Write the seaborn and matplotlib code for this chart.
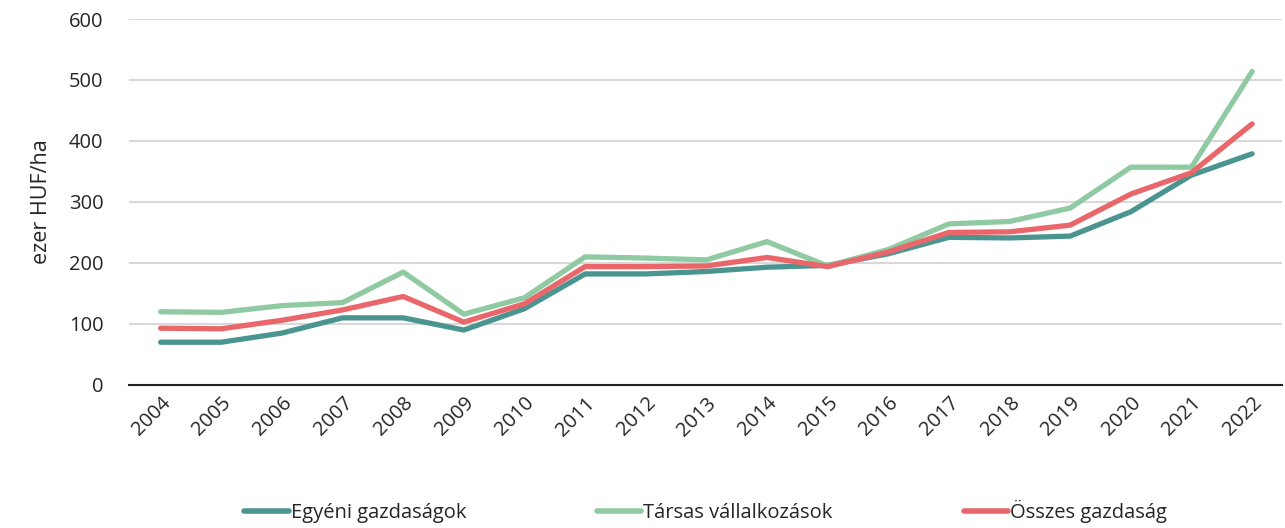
import pandas as pd
import matplotlib
matplotlib.use('Agg')
import matplotlib.pyplot as plt
import seaborn as sns

years = list(range(2004, 2023))
egyeni = [70, 70, 85, 110, 110, 90, 125, 182, 182, 186, 193, 196, 215, 242, 241, 244, 284, 344, 379]
tarsas = [120, 119, 130, 135, 185, 116, 143, 210, 208, 205, 235, 195, 222, 264, 268, 290, 357, 357, 514]
osszes = [93, 92, 106, 123, 145, 103, 133, 194, 194, 195, 209, 194, 218, 250, 251, 262, 313, 348, 428]

series_names = ['Egyéni gazdaságok', 'Társas vállalkozások', 'Összes gazdaság']
colors = ['#4b9590', '#90caa2', '#e9676b']

df = pd.DataFrame({'year': years, series_names[0]: egyeni,
                   series_names[1]: tarsas, series_names[2]: osszes})
long = df.melt(id_vars='year', var_name='series', value_name='value')
long['pos'] = long['year'] - years[0]

sns.set_style('white')
plt.rcParams['font.family'] = ['Open Sans', 'DejaVu Sans']

fig = plt.figure(figsize=(12.85, 5.28), dpi=100)
ax = fig.add_axes([0.1, 0.271, 0.898, 0.693])

sns.lineplot(data=long, x='pos', y='value', hue='series', hue_order=series_names,
             palette=colors, linewidth=3.8, ax=ax, solid_capstyle='round')

ax.set_xlim(-0.53, len(years) - 0.5)
ax.set_ylim(0, 600)
ax.set_yticks(range(0, 601, 100))
ax.set_xticks(range(len(years)))
ax.set_xticklabels([str(y) for y in years], rotation=45, ha='right',
                   rotation_mode='anchor', fontsize=14.5)
ax.tick_params(axis='y', labelsize=14.5, length=0, pad=18)
ax.tick_params(axis='x', length=0, pad=6)
ax.yaxis.grid(True, color='#d9d9d9', linewidth=1.5)
ax.set_axisbelow(True)
for s in ['top', 'right', 'left']:
    ax.spines[s].set_visible(False)
ax.spines['bottom'].set_color('#222222')
ax.spines['bottom'].set_linewidth(1.5)
ax.set_xlabel('')
ax.set_ylabel('ezer HUF/ha', fontsize=15.5, labelpad=12)

sns.move_legend(ax, 'center', bbox_to_anchor=(0.5, -0.347), ncol=3,
                frameon=False, title=None, fontsize=14.5, handlelength=2.2,
                handletextpad=0.1, columnspacing=6.5)
for line in ax.get_legend().get_lines():
    line.set_linewidth(4)

fig.savefig('out.png', dpi=100)
